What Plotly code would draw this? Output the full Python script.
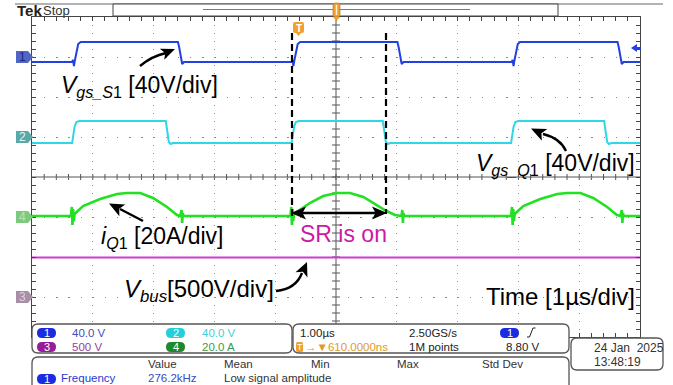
import math
import plotly.graph_objects as go

# ---------------- data ----------------
# time axis: microseconds (1 us/div, 10 div)
# Ch1  V_gs_S1  [V]   40 V/div, position +3 div
ch1_t = [0.00, 0.66, 0.675, 0.69, 0.70, 0.76, 0.80,
         2.40, 2.42, 2.47, 2.50,
         4.27, 4.285, 4.30, 4.31, 4.37, 4.41,
         6.01, 6.03, 6.08, 6.11,
         7.89, 7.905, 7.92, 7.93, 7.99, 8.03,
         9.63, 9.65, 9.70, 9.73, 10.0]
ch1_v = [-5, -5, -3, -9, -5, 13, 15,
         15, 10, -7, -5,
         -5, -3, -9, -5, 13, 15,
         15, 10, -7, -5,
         -5, -3, -9, -5, 13, 15,
         15, 10, -7, -5, -5]

# Ch2  V_gs_Q1  [V]   40 V/div, position +1 div
ch2_t = [0.00, 0.66, 0.70, 0.73, 0.78, 2.20, 2.22, 2.25, 2.28, 2.32,
         4.27, 4.31, 4.34, 4.39, 5.77, 5.79, 5.82, 5.85, 5.89,
         7.88, 7.92, 7.95, 8.00, 9.41, 9.43, 9.46, 9.49, 9.53, 10.0]
ch2_v = [-6, -6, 10, 15, 16, 16, 8, -5, -7, -6,
         -6, 10, 15, 16, 16, 8, -5, -7, -6,
         -6, 10, 15, 16, 16, 8, -5, -7, -6, -6]

# Ch4  i_Q1  [A]   20 A/div, position -1 div
ch4_t = [0.00, 0.64, 0.655, 0.665, 0.675, 0.685, 0.70, 0.84, 1.12, 1.40, 1.56, 1.78, 1.99, 2.22, 2.385,
         2.44, 2.46, 2.47, 2.48, 2.49,
         4.25, 4.265, 4.275, 4.285, 4.295, 4.31, 4.57, 4.79, 5.01, 5.23, 5.45, 5.67, 5.83, 5.97,
         6.08, 6.09, 6.10, 6.11, 6.12,
         7.88, 7.895, 7.905, 7.915, 7.925, 7.94, 8.08, 8.36, 8.64, 8.80, 9.02, 9.23, 9.46, 9.62,
         9.68, 9.70, 9.71, 9.72, 9.73, 10.0]
ch4_i = [0.5, 0.5, 5, -4, 4, -2, 1.5, 5.5, 9, 11.5, 12, 12, 9.5, 5, 1,
         0.5, 3.5, -3, 2, 0.5,
         0.5, 5, -4, 4, -2, 1.5, 7, 10.5, 12, 12, 10, 6, 3, 1,
         0.5, 3.5, -3, 2, 0.5,
         0.5, 5, -4, 4, -2, 1.5, 5.5, 9, 11.5, 12, 12, 9.5, 5, 1,
         0.5, 3.5, -3, 2, 0.5, 0.5]

# Ch3  V_bus  [V]   500 V/div, position -3 div
ch3_t = [0.0, 10.0]
ch3_v = [495, 495]

ch_scale = {"1": 40.0, "2": 40.0, "3": 500.0, "4": 20.0}
ch_pos = {"1": 3.0, "2": 1.0, "3": -3.0, "4": -1.0}

readout_ch = ["40.0 V", "40.0 V", "500 V", "20.0 A"]
horiz_scale = "1.00µs"
trig_delay = "610.0000ns"
sample_rate = "2.50GS/s"
rec_len = "1M points"
trig_level = "8.80 V"
meas_headers = ["Value", "Mean", "Min", "Max", "Std Dev"]
meas_row = ["Frequency", "276.2kHz", "Low signal amplitude"]
date_txt = ["24 Jan  2025", "13:48:19"]

# ---------------- geometry helpers ----------------
W, H = 673, 385
L, R, T, B = 32, 640, 17, 337


def X(px):
    return (px - 32) / 60.8


def Y(py):
    return (177 - py) / 40.0


def PX(px):
    return (px - L) / (R - L)


def PY(py):
    return (B - py) / (B - T)


def to_div(vals, ch):
    return [v / ch_scale[ch] + ch_pos[ch] for v in vals]


def rrect(x0, y0, x1, y1, r):
    p = [f"M {PX(x0 + r)},{PY(y0)}", f"L {PX(x1 - r)},{PY(y0)}",
         f"Q {PX(x1)},{PY(y0)} {PX(x1)},{PY(y0 + r)}", f"L {PX(x1)},{PY(y1 - r)}",
         f"Q {PX(x1)},{PY(y1)} {PX(x1 - r)},{PY(y1)}", f"L {PX(x0 + r)},{PY(y1)}",
         f"Q {PX(x0)},{PY(y1)} {PX(x0)},{PY(y1 - r)}", f"L {PX(x0)},{PY(y0 + r)}",
         f"Q {PX(x0)},{PY(y0)} {PX(x0 + r)},{PY(y0)}", "Z"]
    return " ".join(p)


def ppath(pts, close=True):
    s = "M " + " L ".join(f"{PX(a)},{PY(b)}" for a, b in pts)
    return s + (" Z" if close else "")


def head(tip, frm, length=15, half=6.5, notch=3.5):
    ux, uy = tip[0] - frm[0], tip[1] - frm[1]
    n = math.hypot(ux, uy)
    ux, uy = ux / n, uy / n
    nx, ny = -uy, ux
    bx, by = tip[0] - length * ux, tip[1] - length * uy
    pts = [tip, (bx + half * nx, by + half * ny),
           (tip[0] - (length - notch) * ux, tip[1] - (length - notch) * uy),
           (bx - half * nx, by - half * ny)]
    return ppath(pts)


FONT = "Liberation Sans, Arial, sans-serif"

fig = go.Figure()

C1, C2, C3, C4 = "#2340e0", "#2fd6e6", "#d23ad2", "#22e022"
fig.add_trace(go.Scatter(x=ch3_t, y=to_div(ch3_v, "3"), mode="lines",
                         line=dict(color=C3, width=2), hoverinfo="skip", showlegend=False))
fig.add_trace(go.Scatter(x=ch4_t, y=to_div(ch4_i, "4"), mode="lines",
                         line=dict(color=C4, width=2.6), hoverinfo="skip", showlegend=False))
fig.add_trace(go.Scatter(x=ch2_t, y=to_div(ch2_v, "2"), mode="lines",
                         line=dict(color=C2, width=2), hoverinfo="skip", showlegend=False))
fig.add_trace(go.Scatter(x=ch1_t, y=to_div(ch1_v, "1"), mode="lines",
                         line=dict(color=C1, width=2), hoverinfo="skip", showlegend=False))

shapes = []
ann = []

# centre cross with ticks
tk = ["M 0,0 L 10,0", "M 5,-4 L 5,4"]
for k in range(1, 50):
    tk.append(f"M {k*0.2},{-0.075} L {k*0.2},{0.075}")
for k in range(1, 40):
    yy = -4 + k * 0.2
    tk.append(f"M {5-0.066},{yy} L {5+0.066},{yy}")
shapes.append(dict(type="path", xref="x", yref="y", path=" ".join(tk),
                   line=dict(color="#555555", width=1), layer="below"))

# dashed markers (SR conduction)
for xp, y1 in [(292, 217), (386, 214)]:
    shapes.append(dict(type="line", xref="x", yref="y", x0=X(xp), x1=X(xp), y0=Y(33), y1=Y(y1),
                       line=dict(color="black", width=2.2, dash="7px,4px"), layer="above"))

# ---------- callout arrows (shafts + filled heads) ----------
AL = dict(color="black", width=2.4)
# V_gs_S1 arrow (slightly curved)
shapes.append(dict(type="path", xref="paper", yref="paper",
                   path=f"M {PX(140)},{PY(66)} Q {PX(152)},{PY(56)} {PX(166)},{PY(53)}", line=AL))
shapes.append(dict(type="path", xref="paper", yref="paper", path=head((175, 49), (160, 55), 14, 6),
                   fillcolor="black", line=dict(width=0)))
# i_Q1 arrow
shapes.append(dict(type="line", xref="paper", yref="paper", x0=PX(143), y0=PY(221), x1=PX(120), y1=PY(209),
                   line=AL))
shapes.append(dict(type="path", xref="paper", yref="paper", path=head((109, 203.5), (143, 221)),
                   fillcolor="black", line=dict(width=0)))
# V_bus arrow (curved)
shapes.append(dict(type="path", xref="paper", yref="paper",
                   path=f"M {PX(276)},{PY(291)} Q {PX(296)},{PY(289)} {PX(302)},{PY(273)}", line=AL))
shapes.append(dict(type="path", xref="paper", yref="paper", path=head((307, 262), (301, 276), 14, 6.5),
                   fillcolor="black", line=dict(width=0)))
# V_gs_Q1 arrow (curved)
shapes.append(dict(type="path", xref="paper", yref="paper",
                   path=f"M {PX(566)},{PY(151)} Q {PX(560)},{PY(138)} {PX(543)},{PY(134)}", line=AL))
shapes.append(dict(type="path", xref="paper", yref="paper", path=head((531, 128.5), (546, 135.5)),
                   fillcolor="black", line=dict(width=0)))
# SR double arrow
shapes.append(dict(type="line", xref="paper", yref="paper", x0=PX(300), y0=PY(213), x1=PX(378), y1=PY(213),
                   line=AL))
shapes.append(dict(type="path", xref="paper", yref="paper", path=head((387, 213), (300, 213)),
                   fillcolor="black", line=dict(width=0)))
shapes.append(dict(type="path", xref="paper", yref="paper", path=head((291, 213), (380, 213)),
                   fillcolor="black", line=dict(width=0)))

# channel markers on the left
marks = [("1", 57, "#4f66c4", "#1c2a78"), ("2", 137, "#5ba8a8", "#e6f4f4"),
         ("4", 217, "#7dca7d", "#b8e4b8"), ("3", 297, "#a88ea8", "#dcd0dc")]
for lab, yc, fc, tc in marks:
    shapes.append(dict(type="path", xref="paper", yref="paper",
                       path=ppath([(16, yc - 6), (28, yc - 6), (33, yc), (28, yc + 6), (16, yc + 6)]),
                       fillcolor=fc, line=dict(width=0), layer="above"))
    ann.append(dict(xref="paper", yref="paper", x=PX(22), y=PY(yc), text=lab, showarrow=False,
                    font=dict(family=FONT, size=12, color=tc), xanchor="center", yanchor="middle"))

# ch1 level arrow on right
shapes.append(dict(type="path", xref="paper", yref="paper",
                   path=ppath([(631, 48), (637, 44), (637, 52)]), fillcolor=C1, line=dict(width=0)))
shapes.append(dict(type="line", xref="paper", yref="paper", x0=PX(636), x1=PX(641), y0=PY(48), y1=PY(48),
                   line=dict(color=C1, width=2)))

# trigger position marker "T"
OR = "#f0a030"
shapes.append(dict(type="path", xref="paper", yref="paper", path=rrect(293, 22, 304, 33, 2),
                   fillcolor=OR, line=dict(width=0)))
shapes.append(dict(type="path", xref="paper", yref="paper",
                   path=ppath([(296, 33), (301, 33), (298.5, 36)]), fillcolor=OR, line=dict(width=0)))
ann.append(dict(xref="paper", yref="paper", x=PX(298.5), y=PY(28), text="<b>T</b>", showarrow=False,
                font=dict(family=FONT, size=10, color="white"), xanchor="center", yanchor="middle"))

# ---------- top status bar ----------
shapes.append(dict(type="line", xref="paper", yref="paper", x0=PX(15), x1=PX(663), y0=PY(4), y1=PY(4),
                   line=dict(color="#666666", width=1)))
shapes.append(dict(type="rect", xref="paper", yref="paper", x0=PX(113), x1=PX(558), y0=PY(4), y1=PY(16),
                   line=dict(color="#444444", width=1), fillcolor="white"))
shapes.append(dict(type="line", xref="paper", yref="paper", x0=PX(203), x1=PX(470), y0=PY(9.5), y1=PY(9.5),
                   line=dict(color="#4a9a4a", width=1)))
shapes.append(dict(type="path", xref="paper", yref="paper", path=rrect(333, 3, 340, 17, 2),
                   fillcolor=OR, line=dict(color="#b07010", width=0.6)))
shapes.append(dict(type="line", xref="paper", yref="paper", x0=PX(336.5), x1=PX(336.5), y0=PY(5), y1=PY(15),
                   line=dict(color="#fff2d0", width=1.5)))
shapes.append(dict(type="path", xref="paper", yref="paper",
                   path=ppath([(333, 17), (340, 17), (336.5, 21)]), fillcolor=OR, line=dict(width=0)))
ann.append(dict(xref="paper", yref="paper", x=PX(15), y=PY(10.5), text="<b>Tek</b>", showarrow=False,
                font=dict(family=FONT, size=15, color="#222222"), xanchor="left", yanchor="middle"))
ann.append(dict(xref="paper", yref="paper", x=PX(41), y=PY(10.5), text="Stop", showarrow=False,
                font=dict(family=FONT, size=13, color="#333333"), xanchor="left", yanchor="middle"))

# ---------- bottom readout boxes ----------
BOXL = dict(color="#555555", width=1.3)
shapes.append(dict(type="path", xref="paper", yref="paper", path=rrect(32, 324, 292, 353, 6),
                   fillcolor="white", line=BOXL))
shapes.append(dict(type="path", xref="paper", yref="paper", path=rrect(293, 324, 569, 353, 6),
                   fillcolor="white", line=BOXL))
shapes.append(dict(type="path", xref="paper", yref="paper", path=rrect(32, 357, 569, 400, 6),
                   fillcolor="white", line=BOXL))
shapes.append(dict(type="path", xref="paper", yref="paper", path=rrect(571, 338, 663, 370, 6),
                   fillcolor="white", line=BOXL))

SF = 11.5
pills = [("1", 37, 328, "#1a2be0"), ("2", 166, 328, "#22d0dc"),
         ("3", 37, 342, "#981c98"), ("4", 166, 342, "#1c8a2c"),
         ("1", 500, 328, "#1a2be0"), ("1", 37, 374, "#1a2be0")]
for lab, x0, y0, col in pills:
    shapes.append(dict(type="path", xref="paper", yref="paper", path=rrect(x0, y0, x0 + 19, y0 + 10, 5),
                       fillcolor=col, line=dict(width=0)))
    ann.append(dict(xref="paper", yref="paper", x=PX(x0 + 9.5), y=PY(y0 + 5), text=lab, showarrow=False,
                    font=dict(family=FONT, size=11, color="white"), xanchor="center", yanchor="middle"))

rd_cols = ["#4b4bc0", "#3fcfd8", "#a03aa0", "#3a9a48"]
rd_pos = [(70, 333), (200, 333), (70, 347), (200, 347)]
for txt, (xx, yy), col in zip(readout_ch, rd_pos, rd_cols):
    ann.append(dict(xref="paper", yref="paper", x=PX(xx), y=PY(yy), text=txt, showarrow=False,
                    font=dict(family=FONT, size=SF, color=col), xanchor="left", yanchor="middle"))

# horizontal / trigger readouts
shapes.append(dict(type="path", xref="paper", yref="paper", path=rrect(296, 342, 303, 352, 1.5),
                   fillcolor=OR, line=dict(width=0)))
ann.append(dict(xref="paper", yref="paper", x=PX(299.5), y=PY(347), text="T", showarrow=False,
                font=dict(family=FONT, size=9, color="white"), xanchor="center", yanchor="middle"))
ann.append(dict(xref="paper", yref="paper", x=PX(303), y=PY(347), text="→▼" + trig_delay, showarrow=False,
                font=dict(family=FONT, size=SF, color="#e09a28"), xanchor="left", yanchor="middle"))
ann.append(dict(xref="paper", yref="paper", x=PX(298), y=PY(333), text=horiz_scale, showarrow=False,
                font=dict(family=FONT, size=SF, color="#222222"), xanchor="left", yanchor="middle"))
ann.append(dict(xref="paper", yref="paper", x=PX(407), y=PY(333), text=sample_rate, showarrow=False,
                font=dict(family=FONT, size=SF, color="#222222"), xanchor="left", yanchor="middle"))
ann.append(dict(xref="paper", yref="paper", x=PX(407), y=PY(347), text=rec_len, showarrow=False,
                font=dict(family=FONT, size=SF, color="#222222"), xanchor="left", yanchor="middle"))
ann.append(dict(xref="paper", yref="paper", x=PX(504), y=PY(347), text=trig_level, showarrow=False,
                font=dict(family=FONT, size=SF, color="#222222"), xanchor="left", yanchor="middle"))
shapes.append(dict(type="path", xref="paper", yref="paper",
                   path=ppath([(527, 337), (529.5, 337), (533, 328), (535.5, 328)], close=False),
                   line=dict(color="#222222", width=1)))

# measurement table
for txt, xx in zip(meas_headers, [146, 222, 309, 395, 480]):
    ann.append(dict(xref="paper", yref="paper", x=PX(xx), y=PY(364), text=txt, showarrow=False,
                    font=dict(family=FONT, size=SF, color="#333333"), xanchor="left", yanchor="middle"))
for txt, xx, col in zip(meas_row, [59, 146, 222], ["#2a3ad0", "#3a4ac0", "#333333"]):
    ann.append(dict(xref="paper", yref="paper", x=PX(xx), y=PY(378), text=txt, showarrow=False,
                    font=dict(family=FONT, size=SF, color=col), xanchor="left", yanchor="middle"))
for txt, yy in zip(date_txt, [348, 362]):
    ann.append(dict(xref="paper", yref="paper", x=PX(592), y=PY(yy), text=txt, showarrow=False,
                    font=dict(family=FONT, size=12, color="#333333"), xanchor="left", yanchor="middle"))

# ---------- big annotation labels ----------
LF = 24
labels = [
    ("<i>V</i><sub><i>gs_S</i>1</sub> [40V/div]", 59, 86, "black", 23, "left"),
    ("<i>V</i><sub><i>gs_Q</i>1</sub> [40V/div]", 474, 164, "black", 23, "left"),
    ("<i>i</i><sub><i>Q</i>1</sub> [20A/div]", 99, 237, "black", 23, "left"),
    ("<i>V</i><sub><i>bus</i></sub>[500V/div]", 122, 290, "black", LF, "left"),
    ("Time [1µs/div]", 484, 296, "black", LF, "left"),
    ("SR is on", 343, 234, "#cc1aa8", 23, "center"),
]
for txt, xx, yy, col, fs, xa in labels:
    ann.append(dict(xref="x", yref="y", x=X(xx), y=Y(yy), text=txt, showarrow=False,
                    font=dict(family=FONT, size=fs, color=col), xanchor=xa, yanchor="middle"))

fig.update_layout(
    width=W, height=H,
    margin=dict(l=L, r=W - R, t=T, b=H - B, pad=0),
    paper_bgcolor="white", plot_bgcolor="white",
    showlegend=False,
    shapes=shapes, annotations=ann,
    xaxis=dict(range=[0, 10], dtick=1, tick0=0, showticklabels=False, showgrid=True,
               gridcolor="#8a8a8a", gridwidth=1, griddash="1.3px,6.7px", zeroline=False,
               showline=True, linecolor="#444444", linewidth=1, mirror="ticks",
               ticks="inside", ticklen=4, tickcolor="#444444",
               minor=dict(dtick=0.2, ticks="inside", ticklen=4, tickcolor="#444444", showgrid=False),
               fixedrange=True),
    yaxis=dict(range=[-4, 4], dtick=1, tick0=0, showticklabels=False, showgrid=True,
               gridcolor="#8a8a8a", gridwidth=1, griddash="1.3px,10.86px", zeroline=False,
               showline=True, linecolor="#444444", linewidth=1, mirror="ticks",
               ticks="inside", ticklen=4, tickcolor="#444444",
               minor=dict(dtick=0.2, ticks="inside", ticklen=4, tickcolor="#444444", showgrid=False),
               fixedrange=True),
)

fig.write_html("out.html", config={"displayModeBar": False},
               post_script="document.body.style.margin='0px';document.body.style.overflow='hidden';")
